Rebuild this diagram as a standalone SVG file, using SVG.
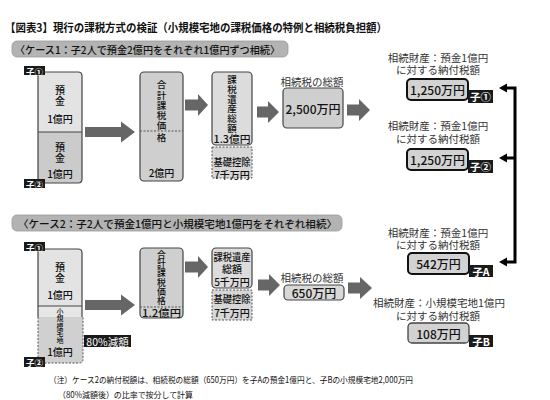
<svg xmlns="http://www.w3.org/2000/svg" width="550" height="400" viewBox="0 0 550 400">
<style>
text{font-family:"Noto Sans CJK JP","Noto Sans",sans-serif;fill:#111;dominant-baseline:central;text-anchor:middle;font-weight:500}
.title{font-size:11.5px;font-weight:bold;text-anchor:start}
.case{font-size:10.5px;text-anchor:start}
.caseBox{fill:#b3b3b3;stroke:#999;stroke-width:0.8}
.bx{font-size:10px}
.v{font-size:9.5px}
.v2{font-size:8.8px}
.sm{font-size:7px}
.lbl{font-size:10.5px;fill:#333;font-weight:400}
.val{font-size:12px}
.tag{fill:#1a1a1a}
.tagT{fill:#fff;font-weight:bold;font-size:8.5px}
.tagR{fill:#fff;font-weight:bold;font-size:10.5px}
.solid{stroke:#444;stroke-width:1.2}
.dash{stroke:#555;stroke-width:1;stroke-dasharray:2 1.5}
.arr{fill:#666}
.note{font-size:8.5px;text-anchor:start;font-weight:400}
</style>

<text class="title" x="5" y="27" textLength="382" lengthAdjust="spacingAndGlyphs">【図表3】現行の課税方式の検証（小規模宅地の課税価格の特例と相続税負担額）</text>

<g id="case1-label">
<rect class="caseBox" x="12" y="41" width="276" height="16" rx="5"/>
<text class="case" x="15" y="49" textLength="265" lengthAdjust="spacingAndGlyphs">〈ケース1：子2人で預金2億円をそれぞれ1億円ずつ相続〉</text>
</g>

<g id="case1-deposit">
<rect x="38" y="72" width="44" height="60" fill="#e3e3e3"/>
<path d="M38,132 H82 V179 Q82,183 78,183 H38 Z" fill="#cbcbcb"/>
<path class="solid" fill="none" d="M38,72 H78 Q82,72 82,76 V179 Q82,183 78,183 H38 Z M38,132 H82"/>
<text class="bx"><tspan x="60" y="89">預</tspan><tspan x="60" y="99.5">金</tspan><tspan x="60" y="118">1億円</tspan></text>
<text class="bx"><tspan x="60" y="146">預</tspan><tspan x="60" y="156.5">金</tspan><tspan x="60" y="173">1億円</tspan></text>
<rect class="tag" x="24" y="66" width="21" height="9"/>
<text class="tagT" x="34.5" y="70.5">子①</text>
<rect class="tag" x="24" y="179" width="21" height="9"/>
<text class="tagT" x="34.5" y="183.5">子②</text>
</g>

<g id="case1-total">
<rect class="solid" x="140" y="72" width="43" height="109" rx="4" fill="#cfcfcf"/>
<line x1="140" y1="131" x2="183" y2="131" stroke="#555" stroke-width="1" stroke-dasharray="2 1.5"/>
<text class="v"><tspan x="161.5" y="84">合</tspan><tspan x="161.5" y="94.5">計</tspan><tspan x="161.5" y="104.5">課</tspan><tspan x="161.5" y="114.5">税</tspan><tspan x="161.5" y="125">価</tspan><tspan x="161.5" y="137">格</tspan></text>
<text class="bx" x="161.5" y="172">2億円</text>
</g>

<g id="case1-taxable">
<rect class="solid" x="212" y="72" width="40" height="73" rx="4" fill="#dcdcdc"/>
<text class="v"><tspan x="232" y="78.5">課</tspan><tspan x="232" y="88.5">税</tspan><tspan x="232" y="98.5">遺</tspan><tspan x="232" y="108.2">産</tspan><tspan x="232" y="118">総</tspan><tspan x="232" y="128">額</tspan></text>
<text class="bx" x="232" y="138.5" textLength="37" lengthAdjust="spacingAndGlyphs">1.3億円</text>
<rect class="dash" x="212" y="147" width="40" height="31" fill="#d6d6d6"/>
<text class="bx" x="232" y="161" textLength="37" lengthAdjust="spacingAndGlyphs">基礎控除</text>
<text class="bx" x="232" y="174">7千万円</text>
</g>

<g id="case1-sum">
<text class="lbl" x="312" y="81">相続税の総額</text>
<rect class="solid" x="283" y="88" width="60" height="40" rx="4" fill="#cfcfcf"/>
<text class="val" x="313" y="108">2,500万円</text>
</g>

<g id="case1-child1">
<text class="lbl" x="438" y="57">相続財産：預金1億円</text>
<text class="lbl" x="438" y="69.5">に対する納付税額</text>
<rect x="407" y="79" width="61" height="21" rx="4" fill="#d2d2d2" stroke="#111" stroke-width="2"/>
<text class="val" x="437.5" y="89.5">1,250万円</text>
<rect class="tag" x="468" y="90" width="25" height="13"/>
<text class="tagR" x="480.5" y="96.5">子①</text>
</g>

<g id="case1-child2">
<text class="lbl" x="438" y="125.5">相続財産：預金1億円</text>
<text class="lbl" x="438" y="138.5">に対する納付税額</text>
<rect x="407" y="149" width="61" height="21" rx="4" fill="#d2d2d2" stroke="#111" stroke-width="2"/>
<text class="val" x="437.5" y="159.5">1,250万円</text>
<rect class="tag" x="468" y="160" width="25" height="13"/>
<text class="tagR" x="480.5" y="166.5">子②</text>
</g>

<g id="case2-label">
<rect class="caseBox" x="12" y="215" width="330" height="16" rx="5"/>
<text class="case" x="18" y="223" textLength="319" lengthAdjust="spacingAndGlyphs">〈ケース2：子2人で預金1億円と小規模宅地1億円をそれぞれ相続〉</text>
</g>

<g id="case2-assets">
<rect x="38" y="249" width="44" height="57" fill="#e3e3e3"/>
<rect x="38" y="306" width="44" height="11" fill="#e6e6e6"/>
<path class="solid" fill="none" d="M38,317 V249 H78 Q82,249 82,253 V317 M38,306 H82"/>
<path d="M38,317 H83 V359 Q83,363 79,363 H38 Z" fill="#d0d0d0"/>
<path class="dash" fill="none" d="M38,317 V363 H79 Q83,363 83,359 V317"/>
<text class="bx"><tspan x="60" y="266">預</tspan><tspan x="60" y="276.5">金</tspan><tspan x="60" y="294">1億円</tspan></text>
<text class="sm"><tspan x="60" y="311">小</tspan><tspan x="60" y="318.3">規</tspan><tspan x="60" y="325.6">模</tspan><tspan x="60" y="332.9">宅</tspan><tspan x="60" y="340.2">地</tspan></text>
<text class="bx" x="60" y="351">1億円</text>
<rect class="tag" x="24" y="242" width="21" height="9"/>
<text class="tagT" x="34.5" y="246.5">子①</text>
<rect class="tag" x="24" y="357" width="21" height="10"/>
<text class="tagT" x="34.5" y="362">子②</text>
<rect class="tag" x="84" y="335" width="47" height="12"/>
<text x="107.5" y="341" style="font-size:10.5px;fill:#fff;font-weight:400">80%減額</text>
</g>

<g id="case2-total">
<rect class="solid" x="140" y="248" width="43" height="70" rx="4" fill="#cfcfcf"/>
<line x1="140" y1="307" x2="183" y2="307" stroke="#555" stroke-width="1" stroke-dasharray="2 1.5"/>
<text class="v2"><tspan x="161.5" y="254">合</tspan><tspan x="161.5" y="263.2">計</tspan><tspan x="161.5" y="272.4">課</tspan><tspan x="161.5" y="281.6">税</tspan><tspan x="161.5" y="290.8">価</tspan><tspan x="161.5" y="300">格</tspan></text>
<text class="bx" x="161.5" y="312.5" textLength="39" lengthAdjust="spacingAndGlyphs">1.2億円</text>
</g>

<g id="case2-taxable">
<rect class="solid" x="212" y="248" width="40" height="40" rx="4" fill="#dcdcdc"/>
<text class="bx" x="232" y="256" textLength="37" lengthAdjust="spacingAndGlyphs">課税遺産</text>
<text class="bx" x="232" y="268">総額</text>
<text class="bx" x="232" y="281">5千万円</text>
<rect class="dash" x="212" y="290" width="40" height="30" fill="#d6d6d6"/>
<text class="bx" x="232" y="298.5" textLength="37" lengthAdjust="spacingAndGlyphs">基礎控除</text>
<text class="bx" x="232" y="312">7千万円</text>
</g>

<g id="case2-sum">
<text class="lbl" x="312" y="277">相続税の総額</text>
<rect class="solid" x="284" y="285" width="60" height="15" rx="4" fill="#d8d8d8"/>
<text class="val" x="314" y="292.5">650万円</text>
</g>

<g id="case2-childA">
<text class="lbl" x="438" y="232">相続財産：預金1億円</text>
<text class="lbl" x="438" y="244.5">に対する納付税額</text>
<rect x="408" y="253" width="61" height="21" rx="4" fill="#d2d2d2" stroke="#111" stroke-width="2"/>
<text class="val" x="438.5" y="263.5">542万円</text>
<rect class="tag" x="469" y="265" width="24" height="12"/>
<text class="tagR" x="481" y="271">子A</text>
</g>

<g id="case2-childB">
<text class="lbl" x="439" y="302">相続財産：小規模宅地1億円</text>
<text class="lbl" x="438" y="315">に対する納付税額</text>
<rect x="408" y="323" width="61" height="20" rx="4" fill="#d2d2d2" stroke="#444" stroke-width="1.3"/>
<text class="val" x="438.5" y="333">108万円</text>
<rect class="tag" x="469" y="335" width="24" height="12"/>
<text class="tagR" x="481" y="341">子B</text>
</g>

<g id="connectors">
<polygon class="arr" points="85,127 121,127 121,121.5 135,132 121,142.5 121,137 85,137"/>
<polygon class="arr" points="185,99.5 198,99.5 198,94 208,105 198,116 198,110.5 185,110.5"/>
<polygon class="arr" points="257,106.5 268,106.5 268,101 279,112 268,123 268,117.5 257,117.5"/>
<polygon class="arr" points="347,104.5 359,104.5 359,99 370,110 359,121 359,115.5 347,115.5"/>
<polygon class="arr" points="85,300 121,300 121,294.5 135,305 121,315.5 121,310 85,310"/>
<polygon class="arr" points="185,261.5 198,261.5 198,256 208,267 198,278 198,272.5 185,272.5"/>
<polygon class="arr" points="258,279.5 269,279.5 269,274 280,285 269,296 269,290.5 258,290.5"/>
<polygon class="arr" points="348,282.5 360,282.5 360,277 372,288 360,299 360,293.5 348,293.5"/>
<path d="M506,88 H515 V262 H506 M506,158 H515" fill="none" stroke="#000" stroke-width="3"/>
<polygon points="499,88 507,83.5 507,92.5" fill="#000"/>
<polygon points="499,158 507,153.5 507,162.5" fill="#000"/>
<polygon points="499,262 507,257.5 507,266.5" fill="#000"/>
</g>

<text class="note" x="49" y="379" textLength="364" lengthAdjust="spacingAndGlyphs">（注）ケース2の納付税額は、相続税の総額（650万円）を子Aの預金1億円と、子Bの小規模宅地2,000万円</text>
<text class="note" x="58" y="394" textLength="135" lengthAdjust="spacingAndGlyphs">（80%減額後）の比率で按分して計算</text>
</svg>
